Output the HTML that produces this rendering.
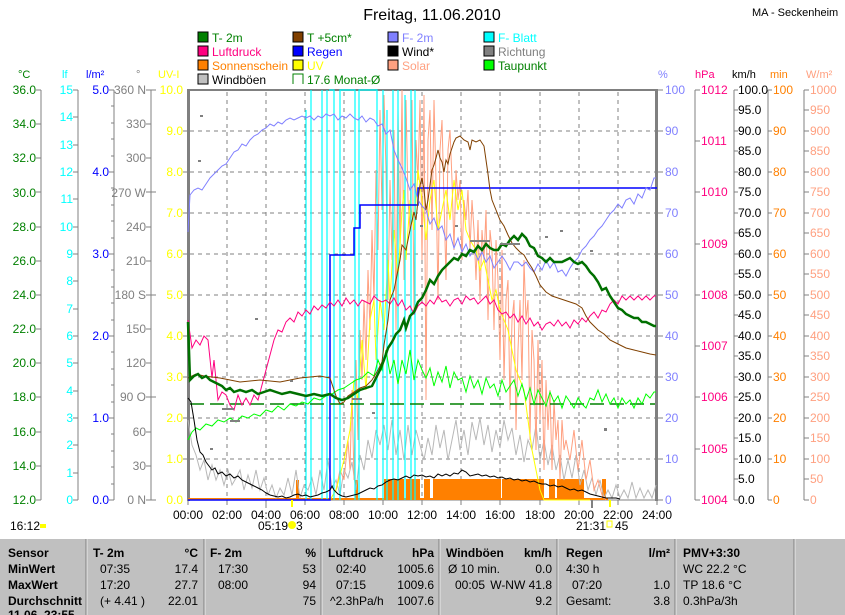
<!DOCTYPE html>
<html><head><meta charset="utf-8"><style>
html,body{margin:0;padding:0;background:#fff;}
svg{display:block;font-family:"Liberation Sans",sans-serif;}
</style></head><body>
<svg width="845" height="615" viewBox="0 0 845 615" xmlns="http://www.w3.org/2000/svg">
<rect width="845" height="615" fill="#fff"/>
<text x="432" y="20" font-size="16" text-anchor="middle" fill="#000">Freitag, 11.06.2010</text>
<text x="752" y="16" font-size="11" fill="#000">MA - Seckenheim</text>
<g font-size="12">
<rect x="198" y="32" width="10" height="10" fill="#008000" stroke="#000"/><text x="212" y="42" fill="#008000">T- 2m</text>
<rect x="293" y="32" width="10" height="10" fill="#804000" stroke="#000"/><text x="307" y="42" fill="#008000">T +5cm*</text>
<rect x="388" y="32" width="10" height="10" fill="#8080ff" stroke="#000"/><text x="402" y="42" fill="#8080ff">F- 2m</text>
<rect x="484" y="32" width="10" height="10" fill="#00ffff" stroke="#000"/><text x="498" y="42" fill="#00ffff">F- Blatt</text>
<rect x="198" y="46" width="10" height="10" fill="#ff0080" stroke="#000"/><text x="212" y="56" fill="#ff0080">Luftdruck</text>
<rect x="293" y="46" width="10" height="10" fill="#0000ff" stroke="#000"/><text x="307" y="56" fill="#0000ff">Regen</text>
<rect x="388" y="46" width="10" height="10" fill="#000" stroke="#000"/><text x="402" y="56" fill="#000">Wind*</text>
<rect x="484" y="46" width="10" height="10" fill="#808080" stroke="#000"/><text x="498" y="56" fill="#808080">Richtung</text>
<rect x="198" y="60" width="10" height="10" fill="#ff8000" stroke="#000"/><text x="212" y="70" fill="#ff8000">Sonnenschein</text>
<rect x="293" y="60" width="10" height="10" fill="#ffff00" stroke="#000"/><text x="307" y="70" fill="#ffff00">UV</text>
<rect x="388" y="60" width="10" height="10" fill="#ffa080" stroke="#000"/><text x="402" y="70" fill="#ffa080">Solar</text>
<rect x="484" y="60" width="10" height="10" fill="#00ff00" stroke="#000"/><text x="498" y="70" fill="#008000">Taupunkt</text>
<rect x="198" y="74" width="10" height="10" fill="#c0c0c0" stroke="#000"/><text x="212" y="84" fill="#000">Windböen</text>
<path d="M303 84V74H293V84" fill="none" stroke="#008000"/><text x="307" y="84" fill="#008000">17.6 Monat-Ø</text>
</g>
<g font-size="11">
<text x="18" y="78" fill="#008000">°C</text>
<text x="62" y="78" fill="#00ffff">lf</text>
<text x="86" y="78" fill="#0000ff">l/m²</text>
<text x="136" y="78" fill="#808080">°</text>
<text x="158" y="78" fill="#ffff00">UV-I</text>
<text x="658" y="78" fill="#8080ff">%</text>
<text x="695" y="78" fill="#ff0080">hPa</text>
<text x="732" y="78" fill="#000">km/h</text>
<text x="770" y="78" fill="#ff8000">min</text>
<text x="806" y="78" fill="#ffa080">W/m²</text>
</g>
<g stroke="#808080" stroke-width="1">
<line x1="41" y1="90" x2="41" y2="500"/><line x1="78" y1="90" x2="78" y2="500"/>
<line x1="114" y1="90" x2="114" y2="500"/><line x1="151" y1="90" x2="151" y2="500"/>
<line x1="695" y1="90" x2="695" y2="500"/><line x1="734" y1="90" x2="734" y2="500"/>
<line x1="768" y1="90" x2="768" y2="500"/><line x1="804" y1="90" x2="804" y2="500"/>
</g>
<g stroke="#808080" stroke-dasharray="4,4">
<path d="M190 131H656M190 172H656M190 213H656M190 254H656M190 295H656M190 336H656M190 377H656M190 418H656M190 459H656"/>
<path d="M227 92V500M266 92V500M305 92V500M344 92V500M383 92V500M422 92V500M461 92V500M500 92V500M540 92V500M579 92V500M618 92V500"/>
</g>
<rect x="188" y="89" width="469" height="2" fill="#808080"/>
<rect x="187" y="89" width="3" height="412" fill="#808080"/>
<rect x="655" y="89" width="3" height="412" fill="#808080"/>
<line x1="188" y1="500" x2="657" y2="500" stroke="#808080"/>
<path d="M188 500v5M227 500v5M266 500v8M305 500v5M344 500v5M383 500v5M422 500v5M461 500v5M500 500v5M540 500v5M579 500v5M618 500v5M657 500v5" stroke="#808080"/>
<line x1="592" y1="500" x2="592" y2="508" stroke="#808080" stroke-width="2"/>
<g font-size="12" text-anchor="end" fill="#008000">
<text x="36" y="94">36.0</text><text x="36" y="128">34.0</text><text x="36" y="162">32.0</text><text x="36" y="197">30.0</text><text x="36" y="231">28.0</text><text x="36" y="265">26.0</text><text x="36" y="299">24.0</text><text x="36" y="333">22.0</text><text x="36" y="367">20.0</text><text x="36" y="401">18.0</text><text x="36" y="436">16.0</text><text x="36" y="470">14.0</text><text x="36" y="504">12.0</text>
</g>
<path d="M36 90h5M36 124h5M36 158h5M36 192h5M36 227h5M36 261h5M36 295h5M36 329h5M36 363h5M36 397h5M36 432h5M36 466h5M36 500h5" stroke="#808080"/>
<g font-size="12" text-anchor="end" fill="#00ffff">
<text x="73" y="94">15</text><text x="73" y="121">14</text><text x="73" y="149">13</text><text x="73" y="176">12</text><text x="73" y="203">11</text><text x="73" y="231">10</text><text x="73" y="258">9</text><text x="73" y="285">8</text><text x="73" y="313">7</text><text x="73" y="340">6</text><text x="73" y="367">5</text><text x="73" y="395">4</text><text x="73" y="422">3</text><text x="73" y="449">2</text><text x="73" y="477">1</text><text x="73" y="504">0</text>
</g>
<path d="M73 90h5M73 117h5M73 145h5M73 172h5M73 199h5M73 227h5M73 254h5M73 281h5M73 309h5M73 336h5M73 363h5M73 391h5M73 418h5M73 445h5M73 473h5M73 500h5" stroke="#808080"/>
<g font-size="12" text-anchor="end" fill="#0000ff">
<text x="109" y="94">5.0</text><text x="109" y="176">4.0</text><text x="109" y="258">3.0</text><text x="109" y="340">2.0</text><text x="109" y="422">1.0</text><text x="109" y="504">0.0</text>
</g>
<path d="M109 90h5M109 172h5M109 254h5M109 336h5M109 418h5M109 500h5M111 106h3M111 123h3M111 139h3M111 156h3M111 188h3M111 205h3M111 221h3M111 238h3M111 270h3M111 287h3M111 303h3M111 320h3M111 352h3M111 369h3M111 385h3M111 402h3M111 434h3M111 451h3M111 467h3M111 484h3" stroke="#808080"/>
<g font-size="12" text-anchor="end" fill="#808080">
<text x="146" y="94">360 N</text><text x="146" y="128">330</text><text x="146" y="162">300</text><text x="146" y="197">270 W</text><text x="146" y="231">240</text><text x="146" y="265">210</text><text x="146" y="299">180 S</text><text x="146" y="333">150</text><text x="146" y="367">120</text><text x="146" y="401">90 O</text><text x="146" y="436">60</text><text x="146" y="470">30</text><text x="146" y="504">0 N</text>
</g>
<path d="M146 90h10M146 124h5M146 158h5M146 192h10M146 227h5M146 261h5M146 295h10M146 329h5M146 363h5M146 397h10M146 432h5M146 466h5M146 500h10" stroke="#808080"/>
<g font-size="12" text-anchor="end" fill="#ffff00">
<text x="183" y="94">10.0</text><text x="183" y="135">9.0</text><text x="183" y="176">8.0</text><text x="183" y="217">7.0</text><text x="183" y="258">6.0</text><text x="183" y="299">5.0</text><text x="183" y="340">4.0</text><text x="183" y="381">3.0</text><text x="183" y="422">2.0</text><text x="183" y="463">1.0</text><text x="183" y="504">0.0</text>
</g>
<path d="M183 131h5M183 172h5M183 213h5M183 254h5M183 295h5M183 336h5M183 377h5M183 418h5M183 459h5" stroke="#808080"/>
<path d="M657 90h6M657 131h6M657 172h6M657 213h6M657 254h6M657 295h6M657 336h6M657 377h6M657 418h6M657 459h6M657 500h6" stroke="#808080"/>
<g font-size="12" fill="#8080ff">
<text x="665" y="94">100</text><text x="665" y="135">90</text><text x="665" y="176">80</text><text x="665" y="217">70</text><text x="665" y="258">60</text><text x="665" y="299">50</text><text x="665" y="340">40</text><text x="665" y="381">30</text><text x="665" y="422">20</text><text x="665" y="463">10</text><text x="665" y="504">0</text>
</g>
<path d="M695 90h5M695 141h5M695 192h5M695 244h5M695 295h5M695 346h5M695 397h5M695 449h5M695 500h5" stroke="#808080"/>
<g font-size="12" fill="#ff0080">
<text x="701" y="94">1012</text><text x="701" y="145">1011</text><text x="701" y="196">1010</text><text x="701" y="248">1009</text><text x="701" y="299">1008</text><text x="701" y="350">1007</text><text x="701" y="401">1006</text><text x="701" y="453">1005</text><text x="701" y="504">1004</text>
</g>
<g stroke="#808080"><path d="M734 90h4M734 110h4M734 131h4M734 151h4M734 172h4M734 192h4M734 213h4M734 233h4M734 254h4M734 274h4M734 295h4M734 315h4M734 336h4M734 356h4M734 377h4M734 397h4M734 418h4M734 438h4M734 459h4M734 479h4M734 500h4"/></g>
<g font-size="12" fill="#000">
<text x="738" y="94">100.0</text><text x="738" y="114">95.0</text><text x="738" y="135">90.0</text><text x="738" y="155">85.0</text><text x="738" y="176">80.0</text><text x="738" y="196">75.0</text><text x="738" y="217">70.0</text><text x="738" y="237">65.0</text><text x="738" y="258">60.0</text><text x="738" y="278">55.0</text><text x="738" y="299">50.0</text><text x="738" y="319">45.0</text><text x="738" y="340">40.0</text><text x="738" y="360">35.0</text><text x="738" y="381">30.0</text><text x="738" y="401">25.0</text><text x="738" y="422">20.0</text><text x="738" y="442">15.0</text><text x="738" y="463">10.0</text><text x="738" y="483">5.0</text><text x="738" y="504">0.0</text>
</g>
<path d="M768 90h4M768 131h4M768 172h4M768 213h4M768 254h4M768 295h4M768 336h4M768 377h4M768 418h4M768 459h4M768 500h4" stroke="#808080"/>
<g font-size="12" fill="#ff8000">
<text x="773" y="94">100</text><text x="773" y="135">90</text><text x="773" y="176">80</text><text x="773" y="217">70</text><text x="773" y="258">60</text><text x="773" y="299">50</text><text x="773" y="340">40</text><text x="773" y="381">30</text><text x="773" y="422">20</text><text x="773" y="463">10</text><text x="773" y="504">0</text>
</g>
<path d="M804 90h5M804 110h5M804 131h5M804 151h5M804 172h5M804 192h5M804 213h5M804 233h5M804 254h5M804 274h5M804 295h5M804 315h5M804 336h5M804 356h5M804 377h5M804 397h5M804 418h5M804 438h5M804 459h5M804 479h5M804 500h5" stroke="#808080"/>
<g font-size="12" fill="#ffa080">
<text x="810" y="94">1000</text><text x="810" y="114">950</text><text x="810" y="135">900</text><text x="810" y="155">850</text><text x="810" y="176">800</text><text x="810" y="196">750</text><text x="810" y="217">700</text><text x="810" y="237">650</text><text x="810" y="258">600</text><text x="810" y="278">550</text><text x="810" y="299">500</text><text x="810" y="319">450</text><text x="810" y="340">400</text><text x="810" y="360">350</text><text x="810" y="381">300</text><text x="810" y="401">250</text><text x="810" y="422">200</text><text x="810" y="442">150</text><text x="810" y="463">100</text><text x="810" y="483">50</text><text x="810" y="504">0</text>
</g>
<g fill="none">
<g fill="#ff8000" stroke="none">
<rect x="296" y="480" width="3" height="20"/><rect x="355" y="480" width="3" height="20"/>
<rect x="384" y="479" width="20" height="21"/><rect x="406" y="479" width="14" height="21"/><rect x="424" y="479" width="6" height="21"/>
<rect x="433" y="479" width="68" height="21"/><rect x="502" y="479" width="42" height="21"/>
<rect x="549" y="479" width="6" height="21"/><rect x="557" y="479" width="27" height="21"/><rect x="602" y="479" width="4" height="21"/>
<rect x="188" y="498" width="420" height="2"/>
</g>
<polyline stroke="#b8b8b8" points="188,420 192,445 196,455 200,470 204,460 208,480 212,465 216,480 220,470 224,485 228,470 232,485 236,478 240,470 244,490 248,475 252,488 256,470 260,490 264,478 268,495 272,485 276,498 280,488 284,495 288,478 292,495 296,470 300,498 304,485 308,490 312,478 316,495 320,470 324,490 328,460 332,488 336,480 340,495 344,470 348,478 352,462 356,490 360,455 364,470 368,440 372,458 376,430 380,445 384,425 388,450 392,420 396,455 400,430 404,460 408,425 412,455 416,430 420,445 424,460 428,438 432,455 436,425 440,448 444,430 448,460 452,440 456,420 460,450 464,430 468,455 472,422 476,440 480,418 484,445 488,425 492,452 496,430 500,448 504,420 508,440 512,428 516,455 520,435 524,462 528,440 532,450 536,425 540,460 544,440 548,465 552,445 556,470 560,455 564,480 568,460 572,478 576,455 580,485 584,470 588,490 592,478 596,495 600,480 604,498 608,490 612,498 616,485 620,498 624,490 628,498 632,482 636,498 640,488 644,498 648,490 652,498 656,485"/>
<polyline stroke="#ffa080" points="330,500 336,490 340,470 344,480 348,440 350,470 352,390 354,480 356,360 358,440 360,330 362,380 364,300 366,360 368,270 370,330 372,230 374,300 376,170 378,250 380,110 382,210 384,95 386,170 388,300 390,180 392,260 394,130 396,330 398,110 400,250 402,90 404,280 406,100 408,200 410,230 412,100 414,310 416,140 418,180 420,100 422,260 424,95 426,400 428,140 430,110 432,230 434,100 436,180 438,300 440,150 442,120 444,200 446,280 448,150 450,130 452,180 454,250 456,170 458,200 460,180 462,260 464,200 466,220 468,190 470,250 472,200 474,230 476,280 478,220 480,300 482,230 484,260 486,210 488,320 490,230 492,250 494,330 496,240 498,280 500,360 502,250 504,380 506,300 508,280 510,410 512,320 514,300 516,430 518,350 520,300 522,380 524,260 526,320 528,300 530,440 532,330 534,360 536,450 538,340 540,420 542,360 544,470 546,380 548,430 550,390 552,470 554,400 556,440 558,420 560,480 562,420 564,450 566,440 570,460 574,430 578,470 582,440 586,480 590,460 594,490 598,480 602,495 606,500"/>
<polyline stroke="#ffff00" points="188,500 330,500 336,490 344,460 350,430 354,380 358,400 362,340 366,390 370,320 374,300 376,360 380,300 384,330 388,260 390,300 394,230 398,280 402,210 404,190 406,260 410,200 414,230 418,170 422,200 426,240 430,200 434,180 438,230 442,210 446,190 450,220 454,180 458,210 462,190 466,230 470,240 476,250 480,270 484,260 488,280 492,300 496,290 500,310 504,320 508,330 512,350 516,370 520,380 524,390 528,420 532,450 536,470 540,490 544,500 590,500"/>
<g stroke="#00ffff" stroke-width="1.2">
<path d="M306 500V110M311 500V90M322 500V90M327 500V90M329 90H334V500M340 500V90H355V500M359 500V90H377V500M383 500V90M387 500V110M393 500V90M398 500V90M405 500V95M411 500V90M415 500V90"/>
</g>
<polyline stroke="#0000ff" stroke-width="1.5" points="188,500 330,500 330,255 354,255 354,228 360,228 360,205 418,205 418,188 657,188"/>
<line x1="190" y1="404" x2="655" y2="404" stroke="#008000" stroke-width="1.5" stroke-dasharray="14,6"/>
<polyline stroke="#00ff00" points="188,440 192,432 196,428 200,430 206,424 212,426 218,420 224,422 230,418 236,422 242,416 248,418 254,414 260,416 266,410 272,412 278,406 284,410 290,404 296,406 302,402 308,404 314,398 320,400 326,396 332,394 338,390 344,388 350,384 356,380 362,378 368,372 374,376 378,360 382,370 386,350 390,374 394,360 398,384 402,360 406,374 410,350 414,380 418,360 422,370 426,378 430,368 434,386 438,372 442,382 446,366 450,388 454,372 458,380 462,378 466,392 470,376 474,388 478,380 482,394 486,378 490,388 494,384 498,396 502,380 506,392 510,386 514,380 518,396 522,384 526,400 530,388 534,404 538,390 542,398 546,406 550,392 554,402 558,396 562,408 566,396 570,402 574,408 578,398 582,404 586,408 590,398 594,400 598,390 602,402 606,394 610,404 614,398 618,408 622,398 626,404 630,400 634,408 638,398 642,404 646,394 650,398 654,392 656,392"/>
<polyline stroke="#ff0080" points="188,320 192,348 196,340 200,345 204,336 208,340 212,378 214,360 218,400 222,392 226,395 230,405 234,410 238,395 242,405 246,398 250,405 254,395 258,400 262,385 266,370 270,355 274,340 278,330 282,332 286,322 290,318 294,322 298,312 302,316 306,310 310,314 314,306 318,310 322,305 326,308 330,302 334,306 338,300 342,306 346,298 350,304 354,300 358,306 362,300 366,302 370,304 374,296 378,300 382,302 386,300 390,304 394,298 398,306 402,300 406,310 410,306 414,314 418,306 422,302 426,306 430,300 434,304 438,296 442,302 446,300 450,306 454,300 458,298 462,304 466,296 470,300 474,298 478,304 482,300 486,296 490,304 494,300 498,310 502,314 506,312 510,318 514,314 518,322 522,316 526,324 530,318 534,326 538,322 542,330 546,324 550,322 554,326 558,320 562,326 566,322 570,328 574,320 578,324 582,318 586,322 590,316 594,312 598,318 602,310 606,312 610,304 614,300 618,304 622,296 626,300 630,296 634,300 638,296 642,300 646,296 650,300 654,296 656,296"/>
<polyline stroke="#8080ff" points="188,232 190,195 194,190 198,188 202,190 206,184 210,178 214,174 218,170 222,166 226,164 230,158 234,152 238,150 242,144 246,146 250,140 254,136 258,134 262,130 266,128 270,124 274,126 278,122 282,124 286,120 290,118 294,120 298,118 302,116 306,118 310,116 314,120 318,116 322,118 326,114 330,116 334,114 338,120 342,116 346,118 350,114 354,118 358,120 362,116 366,122 370,118 374,120 378,126 382,124 386,134 390,130 394,150 398,160 402,168 406,178 410,190 414,184 418,200 422,206 426,210 430,224 434,218 438,230 442,226 446,240 450,234 454,248 458,238 462,252 466,244 470,256 474,250 478,260 482,252 486,262 490,256 494,268 498,262 502,256 506,262 510,270 514,262 518,262 522,266 526,262 530,268 534,272 538,264 542,270 546,260 550,268 554,262 558,272 562,270 566,276 570,268 574,262 578,258 582,250 586,246 590,240 594,236 598,230 602,226 606,220 610,214 614,210 618,204 622,208 626,200 630,198 634,204 638,194 642,198 646,188 650,190 654,178 656,178"/>
<polyline stroke="#804000" points="188,378 196,374 204,376 220,378 240,382 260,380 280,382 300,378 320,376 330,378 336,396 340,404 344,402 348,396 354,392 360,388 366,386 372,380 378,370 382,362 384,345 388,320 390,300 394,290 398,270 400,260 402,245 406,250 410,230 414,212 416,220 418,200 420,185 422,178 424,190 426,210 428,200 430,185 432,170 434,165 436,158 438,150 440,158 442,162 444,172 446,160 448,164 450,154 452,148 454,142 456,138 460,136 464,140 468,142 470,150 472,140 476,142 480,140 484,146 486,160 488,174 490,190 492,200 496,210 500,220 504,226 508,235 512,243 516,248 520,252 524,255 528,262 532,268 536,276 540,285 546,292 552,296 558,298 564,300 570,302 576,304 582,308 586,316 590,322 594,326 598,330 604,334 610,340 618,344 626,348 634,350 642,352 650,354 656,355"/>
<polyline stroke="#000" points="188,398 191,402 194,420 197,440 200,452 203,455 206,462 209,466 212,470 215,468 218,474 222,472 226,476 230,474 234,478 238,476 242,480 246,482 250,484 254,486 258,488 262,490 266,493 270,495 274,496 278,497 282,496 286,498 290,497 294,495 298,494 302,496 306,495 310,497 314,496 318,495 322,493 326,492 330,490 332,486 334,490 338,494 342,496 346,497 350,496 354,495 358,494 362,492 366,490 370,488 374,489 378,486 382,485 386,482 390,480 394,479 398,480 402,478 406,476 410,478 414,475 418,476 422,475 426,477 430,476 434,478 438,474 442,476 446,474 450,476 454,473 458,474 462,470 466,472 470,476 474,475 478,474 482,476 486,475 490,477 494,476 498,478 502,477 506,479 510,478 514,480 518,479 522,481 526,480 530,482 534,481 538,483 542,484 546,484 550,486 554,485 558,487 562,486 566,488 570,490 574,489 578,491 582,490 586,492 590,494 594,495 598,496 602,497 606,498 610,498 616,498 620,499"/>
<polyline stroke="#007000" stroke-width="2.5" points="188,322 190,380 194,376 198,374 202,378 206,376 210,380 214,382 218,384 222,386 226,390 230,388 234,392 240,390 246,392 252,390 258,394 264,392 270,390 276,392 282,394 290,392 298,394 306,396 314,394 322,396 330,394 336,398 342,400 348,398 354,394 360,390 366,388 372,386 376,378 380,370 384,360 388,348 392,342 396,334 400,330 404,320 406,328 410,316 414,312 418,302 422,298 426,290 430,280 434,284 438,276 442,270 446,266 450,262 454,258 458,260 462,254 466,256 470,250 474,252 478,246 482,250 486,244 490,248 494,250 498,250 502,244 506,246 510,240 514,236 518,240 522,234 526,238 530,246 534,248 538,256 542,258 546,262 550,258 554,262 558,262 562,262 566,260 570,258 574,262 578,264 582,262 586,266 590,272 594,276 598,282 602,290 606,288 610,296 614,302 618,308 622,310 626,314 630,316 634,318 638,318 642,322 646,322 650,324 654,326 656,326"/>
<g stroke="none" fill="#808080">
<rect x="200" y="115" width="3" height="2"/><rect x="222" y="408" width="12" height="2"/><rect x="210" y="448" width="3" height="2"/><rect x="230" y="420" width="10" height="2"/><rect x="255" y="318" width="3" height="2"/><rect x="290" y="380" width="3" height="2"/><rect x="352" y="398" width="10" height="2"/><rect x="372" y="412" width="3" height="2"/><rect x="420" y="225" width="3" height="2"/><rect x="455" y="225" width="3" height="2"/><rect x="470" y="240" width="20" height="2"/><rect x="500" y="243" width="20" height="2"/><rect x="545" y="236" width="3" height="2"/><rect x="560" y="230" width="3" height="2"/><rect x="575" y="268" width="3" height="2"/><rect x="590" y="250" width="3" height="2"/><rect x="604" y="428" width="3" height="3"/><rect x="198" y="160" width="3" height="2"/></g>
</g>
<g font-size="12" text-anchor="middle" fill="#000">
<text x="188" y="519">00:00</text><text x="227" y="519">02:00</text><text x="266" y="519">04:00</text><text x="305" y="519">06:00</text><text x="344" y="519">08:00</text><text x="383" y="519">10:00</text><text x="422" y="519">12:00</text><text x="461" y="519">14:00</text><text x="500" y="519">16:00</text><text x="540" y="519">18:00</text><text x="579" y="519">20:00</text><text x="618" y="519">22:00</text><text x="657" y="519">24:00</text>
</g>
<line x1="292" y1="500" x2="292" y2="507" stroke="#ffff00" stroke-width="2"/>
<line x1="610" y1="500" x2="610" y2="507" stroke="#ffff00" stroke-width="2"/>
<g font-size="12" fill="#000">
<text x="10" y="530">16:12</text><rect x="40" y="524" width="6" height="4" fill="#ffff00"/>
<text x="258" y="530">05:19</text><circle cx="292" cy="525" r="4" fill="#ffff00"/><text x="296" y="530">3</text>
<text x="576" y="530">21:31</text><rect x="607" y="521" width="5" height="6" fill="none" stroke="#ffff00"/><text x="615" y="530">45</text>
</g>
<rect x="0" y="539" width="845" height="76" fill="#c0c0c0"/>
<g stroke="#e8e8e8"><path d="M87 539V615M205 539V615M322 539V615M440 539V615M558 539V615M676 539V615M795 539V615"/></g>
<g stroke="#808080"><path d="M86 539V615M204 539V615M321 539V615M439 539V615M557 539V615M675 539V615M794 539V615"/></g>
<g font-size="12" fill="#000">
<g font-weight="bold">
<text x="8" y="557">Sensor</text><text x="8" y="573">MinWert</text><text x="8" y="589">MaxWert</text><text x="8" y="605">Durchschnitt</text><text x="8" y="619">11.06. 23:55</text>
<text x="93" y="557">T- 2m</text><text x="210" y="557">F- 2m</text><text x="328" y="557">Luftdruck</text><text x="446" y="557">Windböen</text><text x="566" y="557">Regen</text><text x="683" y="557">PMV+3:30</text>
<text x="198" y="557" text-anchor="end">°C</text><text x="316" y="557" text-anchor="end">%</text><text x="434" y="557" text-anchor="end">hPa</text><text x="552" y="557" text-anchor="end">km/h</text><text x="670" y="557" text-anchor="end">l/m²</text>
</g>
<text x="100" y="573">07:35</text><text x="198" y="573" text-anchor="end">17.4</text>
<text x="100" y="589">17:20</text><text x="198" y="589" text-anchor="end">27.7</text>
<text x="100" y="605">(+ 4.41 )</text><text x="198" y="605" text-anchor="end">22.01</text>
<text x="218" y="573">17:30</text><text x="316" y="573" text-anchor="end">53</text>
<text x="218" y="589">08:00</text><text x="316" y="589" text-anchor="end">94</text>
<text x="316" y="605" text-anchor="end">75</text>
<text x="336" y="573">02:40</text><text x="434" y="573" text-anchor="end">1005.6</text>
<text x="336" y="589">07:15</text><text x="434" y="589" text-anchor="end">1009.6</text>
<text x="330" y="605">^2.3hPa/h</text><text x="434" y="605" text-anchor="end">1007.6</text>
<text x="448" y="573">Ø 10 min.</text><text x="552" y="573" text-anchor="end">0.0</text>
<text x="455" y="589">00:05</text><text x="552" y="589" text-anchor="end">W-NW 41.8</text>
<text x="552" y="605" text-anchor="end">9.2</text>
<text x="566" y="573">4:30 h</text>
<text x="572" y="589">07:20</text><text x="670" y="589" text-anchor="end">1.0</text>
<text x="566" y="605">Gesamt:</text><text x="670" y="605" text-anchor="end">3.8</text>
<text x="683" y="573">WC 22.2 °C</text><text x="683" y="589">TP 18.6 °C</text><text x="683" y="605">0.3hPa/3h</text>
</g>
</svg>
</body></html>
